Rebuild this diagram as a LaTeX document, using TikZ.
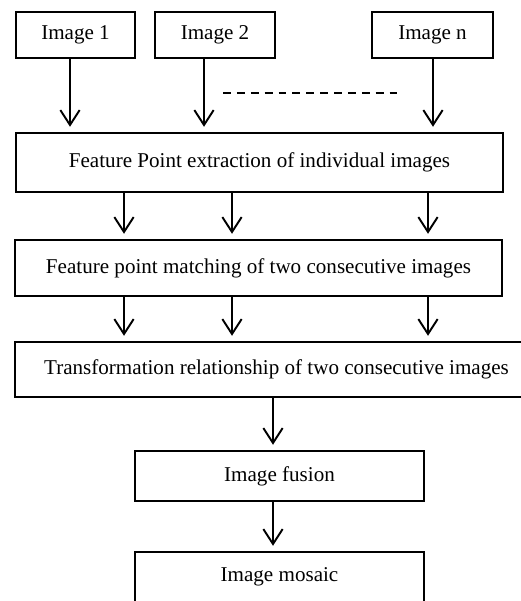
\documentclass[tikz,border=0pt]{standalone}
\usepackage{fontspec}
\setmainfont{Liberation Serif}
\usepackage{tikz}
\usetikzlibrary{arrows.meta}

\begin{document}
\begin{tikzpicture}[x=0.02cm,y=-0.02cm,
  box/.style={draw,line width=1.1pt,inner sep=0pt,font=\fontsize{12}{14}\selectfont},
  flow/.style={line width=1.1pt,-{Straight Barb[length=8.5pt,width=11pt]},shorten >=3pt}]
\useasboundingbox (0,0) rectangle (520,601);

% column positions of the arrows
\coordinate (c1) at (70,0);
\coordinate (c2) at (204,0);
\coordinate (cn) at (433,0);
\coordinate (ca) at (124,0);
\coordinate (cb) at (232,0);
\coordinate (cc) at (428,0);
\coordinate (cd) at (273,0);

\node[box,minimum width=2.38cm,minimum height=0.92cm] (img1) at (75.5,35) {Image 1};
\node[box,minimum width=2.4cm,minimum height=0.92cm] (img2) at (215,35) {Image 2};
\node[box,minimum width=2.42cm,minimum height=0.92cm] (imgn) at (432.5,35) {Image n};

\node[box,minimum width=9.74cm,minimum height=1.18cm] (feat) at (259.5,162.5) {Feature Point extraction of individual images};
\node[box,minimum width=9.74cm,minimum height=1.12cm] (match) at (258.5,268) {Feature point matching of two consecutive images};
\node[box,minimum width=10.46cm,minimum height=1.1cm] (trans) at (276.5,369.5) {Transformation relationship of two consecutive images};
\node[box,minimum width=5.78cm,minimum height=1cm] (fusion) at (279.5,476) {Image fusion};
\node[box,minimum width=5.78cm,minimum height=1cm] (mosaic) at (279.5,577) {Image mosaic};

\draw[flow] (img1.south -| c1) -- (feat.north -| c1);
\draw[flow] (img2.south -| c2) -- (feat.north -| c2);
\draw[flow] (imgn.south -| cn) -- (feat.north -| cn);

\coordinate (dl) at (223,93);
\coordinate (dr) at (398,93);
\draw[line width=0.8pt,dash pattern=on 4.5pt off 3.4pt] (dl) -- (dr);

\foreach \c in {ca,cb,cc}{
  \draw[flow] (feat.south -| \c) -- (match.north -| \c);
  \draw[flow] (match.south -| \c) -- (trans.north -| \c);
}

\draw[flow] (trans.south -| cd) -- (fusion.north -| cd);
\draw[flow] (fusion.south -| cd) -- (mosaic.north -| cd);
\end{tikzpicture}
\end{document}
